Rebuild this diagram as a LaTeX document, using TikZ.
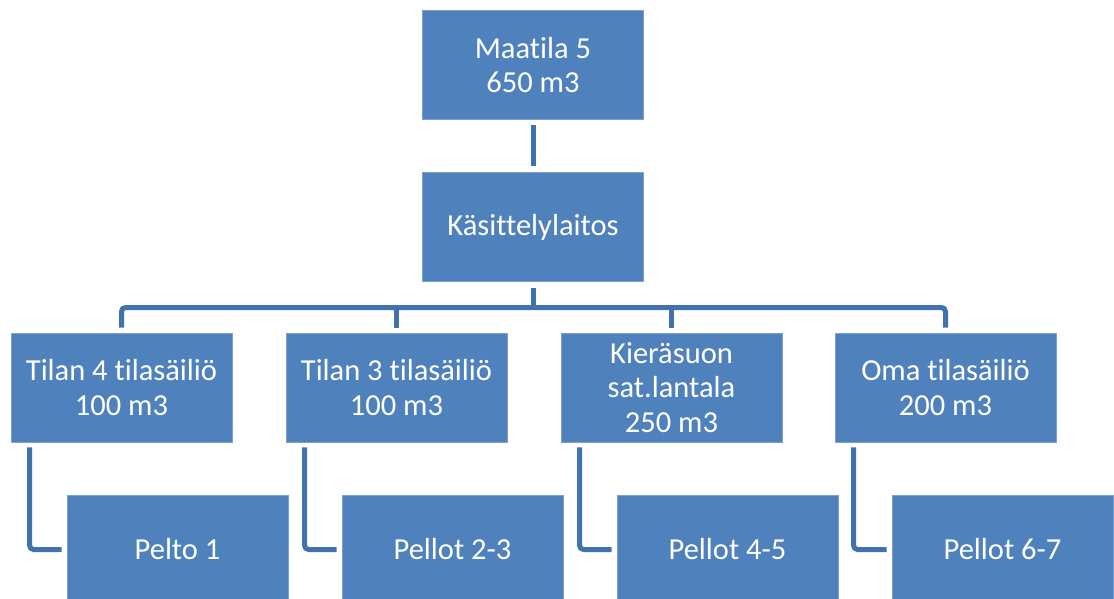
\documentclass[tikz,border=0pt]{standalone}
\usepackage{fontspec}
\setmainfont{Carlito}[Ligatures={NoCommon}]
\definecolor{boxfill}{HTML}{4F81BD}
\definecolor{boxedge}{HTML}{7DA1CF}
\definecolor{connc}{HTML}{4272AC}
\begin{document}
\begin{tikzpicture}[x=1pt,y=-1pt,
  orgbox/.style={draw=boxedge, line width=0.8pt, fill=boxfill, text=white,
    minimum width=221pt, minimum height=109pt, inner sep=0pt,
    align=center, font=\fontsize{30.5}{34.5}\selectfont},
  conn/.style={draw=connc, line width=5pt, rounded corners=4pt}]
\useasboundingbox (0,0) rectangle (1114,599);
\clip (0,0) rectangle (1114,599);
\node[orgbox] (m) at (533,65) {Maatila 5\\650 m3};
\node[orgbox] (k) at (533,227) {Käsittelylaitos};
\node[orgbox] (c1) at (121.5,387.5) {Tilan 4 tilasäiliö\\100 m3};
\node[orgbox] (c2) at (396.5,387.5) {Tilan 3 tilasäiliö\\100 m3};
\node[orgbox] (c3) at (671.5,387.5) {Kieräsuon\\sat.lantala\\250 m3};
\node[orgbox] (c4) at (945.5,387.5) {Oma tilasäiliö\\200 m3};
\node[orgbox] (p1) at (177.5,549.5) {Pelto 1};
\node[orgbox] (p2) at (452.5,549.5) {Pellot 2-3};
\node[orgbox] (p3) at (727.5,549.5) {Pellot 4-5};
\node[orgbox] (p4) at (1002.5,549.5) {Pellot 6-7};
\coordinate (bus) at (533,307.5);
% top connector
\draw[conn] ([yshift=-5pt]m.south) -- ([yshift=6pt]k.north);
% bus
\draw[conn] ([yshift=-6pt]k.south) -- (k.south |- bus);
\draw[conn] ([yshift=5pt]c1.north) |- (c4.north |- bus) -- ([yshift=5pt]c4.north);
\draw[conn] ([yshift=5pt]c2.north) -- (c2.north |- bus);
\draw[conn] ([yshift=5pt]c3.north) -- (c3.north |- bus);
% elbows
\draw[conn] ([xshift=19pt,yshift=-5pt]c1.south west) |- ([xshift=-5pt]p1.west);
\draw[conn] ([xshift=19pt,yshift=-5pt]c2.south west) |- ([xshift=-5pt]p2.west);
\draw[conn] ([xshift=19pt,yshift=-5pt]c3.south west) |- ([xshift=-5pt]p3.west);
\draw[conn] ([xshift=19pt,yshift=-5pt]c4.south west) |- ([xshift=-5pt]p4.west);
\end{tikzpicture}
\end{document}
